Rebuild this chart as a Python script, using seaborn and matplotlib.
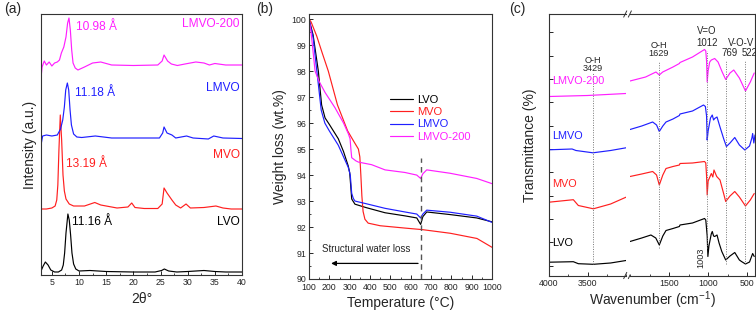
import numpy as np
import pandas as pd
import matplotlib
matplotlib.use('Agg')
import matplotlib.pyplot as plt
import seaborn as sns
from matplotlib.ticker import MultipleLocator

# ---- (a) XRD, intensity in a.u. (curves already offset) ----
lvo_2t = [3.0, 3.4, 3.8, 4.3, 4.8, 5.5, 6.2, 6.8, 7.1, 7.35, 7.6, 7.95, 8.2, 8.45, 8.7, 9.0, 9.4, 10, 12, 15,
          20, 24, 25.2, 25.7, 26.5, 28, 30, 33, 35, 37, 40]
lvo_int = [4, 9, 13, 10, 5, 3, 3, 5, 10, 22, 42, 61, 55, 40, 22, 11, 6, 4, 4.5, 3.5,
           3, 3, 4.5, 6, 4, 3, 3.5, 4.5, 3.5, 3, 3]
mvo_2t = [3.0, 4.0, 5.0, 5.6, 5.9, 6.1, 6.3, 6.55, 6.8, 7.05, 7.3, 7.6, 8.2, 9.0, 11.0, 12.9, 14.0, 17.0, 19.0,
          19.7, 20.3, 22.0, 24.5, 25.3, 25.65, 26.2, 27.1, 27.8, 28.7, 29.7, 30.5, 33.0, 35.2, 36.5, 38.0, 40.0]
mvo_int = [66, 66, 67, 69, 75, 90, 125, 160, 135, 100, 84, 76, 71, 69, 69, 72.5, 70, 67, 68,
           72, 67.5, 66.5, 66.5, 71, 87, 82, 75, 70, 67, 71, 67, 67.5, 69, 67, 66, 66]
lmvo_2t = [3.0, 3.3, 4.0, 5.0, 6.0, 6.6, 7.0, 7.3, 7.55, 7.85, 8.1, 8.35, 8.6, 9.0, 9.6, 10.5, 13, 16, 20,
           24.8, 25.4, 25.65, 26.2, 27.1, 27.8, 29.8, 31, 33.8, 34.8, 36.5, 40]
lmvo_int = [130, 139, 140, 139, 140, 146, 155, 168, 185, 192, 185, 165, 150, 141, 138, 137.5, 139, 137, 137,
            137, 142, 148, 142, 140, 137, 139, 137, 136, 139, 137, 136.5]
l200_2t = [3.0, 3.2, 3.6, 4.0, 4.5, 5.0, 5.5, 6.0, 6.4, 6.75, 7.2, 7.6, 7.9, 8.15, 8.4, 8.65, 8.9, 9.3, 9.8,
           11, 12.5, 14, 16, 20, 24.5, 25.3, 25.65, 26.3, 27, 28.1, 29.5, 31.5, 33.0, 34.0, 35, 37, 40]
l200_int = [197, 208, 214, 210, 213, 209, 212, 213, 215, 222, 228, 238, 252, 257, 245, 225, 212, 207, 205,
            208, 212, 213, 210, 209.5, 210, 214, 220, 214, 211, 209.5, 211, 213, 212, 210, 211.5, 210, 210]

# ---- (b) TGA ----
lvo_T = [100, 120, 146, 162, 179, 200, 244, 270, 293, 300, 305, 310, 326, 380, 474, 572, 630, 649, 660, 679,
         794, 925, 1000]
lvo_w = [100, 99.4, 98.0, 96.7, 96.2, 95.95, 95.4, 94.9, 94.35, 94.1, 93.6, 93.08, 92.88, 92.75, 92.55, 92.43,
         92.35, 92.1, 92.4, 92.58, 92.48, 92.35, 92.2]
mvo_T = [100, 110, 138, 165, 195, 240, 290, 320, 343, 350, 355, 360, 366, 375, 391, 450, 572, 658, 795, 926, 1000]
mvo_w = [100, 99.9, 99.35, 98.7, 98.0, 96.7, 95.7, 95.3, 95.0, 94.7, 94.0, 93.2, 92.6, 92.3, 92.15, 92.05,
         91.96, 91.9, 91.76, 91.56, 91.22]
lmvo_T = [100, 120, 143, 160, 178, 200, 244, 293, 303, 310, 318, 326, 380, 474, 572, 630, 649, 660, 679,
          794, 925, 1000]
lmvo_w = [100, 99.3, 97.7, 96.5, 96.0, 95.7, 95.15, 94.3, 94.0, 93.3, 93.1, 93.0, 92.9, 92.72, 92.58, 92.5,
          92.35, 92.5, 92.65, 92.57, 92.42, 92.18]
l200_T = [100, 110, 130, 150, 179, 228, 270, 293, 302, 306, 310, 330, 343, 408, 474, 572, 630, 649, 660, 679,
          794, 925, 1000]
l200_w = [100, 99.5, 98.0, 97.6, 97.18, 96.59, 96.0, 95.6, 95.4, 95.0, 94.67, 94.55, 94.5, 94.4, 94.2, 94.1,
          94.0, 93.87, 94.05, 94.2, 94.07, 93.87, 93.67]

# ---- (c) FTIR, transmittance in a.u. (offset) ----
ir_left_wn = {
    'LMVO-200': [4000, 3500, 3000],
    'LMVO': [4000, 3700, 3650, 3430, 3200, 3000],
    'MVO': [4000, 3684, 3619, 3424, 3200, 3000],
    'LVO': [4000, 3684, 3619, 3424, 3200, 3000],
}
ir_left_t = {
    'LMVO-200': [179.5, 180.5, 182.5],
    'LMVO': [126.2, 127, 125.5, 123.2, 125.5, 128.2],
    'MVO': [73.8, 76.3, 70.5, 67.2, 72, 78.8],
    'LVO': [13.8, 14.3, 12.3, 11.7, 13, 15.5],
}
ir_right_wn = {
    'LMVO-200': [2000, 1800, 1668, 1625, 1581, 1450, 1368, 1360, 1200, 1046, 1030, 1020, 1012, 1000, 980, 959,
                 916, 873, 820, 775, 720, 672, 600, 522, 460, 410],
    'LMVO': [2000, 1850, 1710, 1660, 1625, 1580, 1539, 1450, 1368, 1360, 1200, 1059, 1035, 1020, 1012, 1000,
             970, 947, 930, 916, 886, 848, 800, 766, 720, 659, 600, 530, 470, 440, 430, 415, 400],
    'MVO': [2000, 1850, 1710, 1660, 1625, 1580, 1539, 1450, 1368, 1360, 1200, 1046, 1030, 1020, 1012, 1000,
            959, 940, 925, 890, 848, 800, 775, 720, 659, 600, 522, 460, 410],
    'LVO': [2000, 1850, 1732, 1670, 1625, 1580, 1539, 1450, 1368, 1360, 1200, 1046, 1030, 1012, 1003, 990,
            960, 947, 930, 916, 886, 860, 825, 775, 720, 659, 600, 573, 522, 470, 430, 410],
}
ir_right_t = {
    'LMVO-200': [195, 199, 204, 201, 204, 209, 212.5, 213.5, 219, 226.5, 225, 215, 194, 205, 214, 216,
                 217.5, 214, 204, 196.5, 203, 206, 198, 185, 194, 203],
    'LMVO': [146.5, 150, 154, 151, 144.5, 150, 154, 157, 160.5, 162, 165, 171, 169.5, 160, 136, 145,
             158, 161, 156, 157.5, 159, 149, 137, 129.5, 133, 138.5, 131, 126, 130, 138, 142.5, 133, 141],
    'MVO': [99.5, 102, 104.5, 101, 91, 101, 107.5, 109.5, 111, 112.5, 113, 114.5, 113, 100, 81, 95,
            102.5, 99, 106, 99.5, 96, 82, 74.5, 80, 84.5, 79, 70, 76, 82.5],
    'LVO': [34.5, 38, 41, 38, 31, 40, 45.5, 47.5, 49.5, 51, 53, 57.5, 56, 40, 19.5, 30,
            42, 44.5, 40, 39.5, 41, 33, 24.5, 16, 20, 23.5, 16, 14.5, 12, 14, 22.5, 19.5],
}
ir_label_y = {'LMVO-200': 194.7, 'LMVO': 139.6, 'MVO': 92, 'LVO': 33.5}

names = ['LVO', 'MVO', 'LMVO', 'LMVO-200']
colors = {'LVO': 'black', 'MVO': '#ff1f1f', 'LMVO': '#1f1fff', 'LMVO-200': '#ff1fff'}

sns.set_style('ticks')
plt.rcParams['font.family'] = ['Liberation Sans', 'DejaVu Sans']
plt.rcParams['mathtext.default'] = 'regular'
plt.rcParams['xtick.direction'] = 'in'
plt.rcParams['ytick.direction'] = 'in'
plt.rcParams['axes.edgecolor'] = '#333333'
plt.rcParams['axes.linewidth'] = 0.8

W, H = 756, 313
fig = plt.figure(figsize=(W / 100, H / 100), dpi=100)


def box(l, t, r, b):
    return [l / W, 1 - b / H, (r - l) / W, (b - t) / H]


ax_a = fig.add_axes(box(41, 14, 242, 275))
ax_b = fig.add_axes(box(309, 14, 492, 279))
ax_c1 = fig.add_axes(box(549, 14, 626, 275.5))
ax_c2 = fig.add_axes(box(630, 14, 755, 275.5))

lw = 0.85
tick_fs = 6.3

# ---------- (a) ----------
xrd = [('LVO', lvo_2t, lvo_int), ('MVO', mvo_2t, mvo_int), ('LMVO', lmvo_2t, lmvo_int),
       ('LMVO-200', l200_2t, l200_int)]
for name, x, y in xrd:
    sns.lineplot(x=x, y=y, ax=ax_a, color=colors[name], lw=lw, estimator=None)
ax_a.set_xlim(3, 40)
ax_a.set_ylim(0, 261)
ax_a.set_xticks(range(5, 41, 5))
ax_a.xaxis.set_minor_locator(MultipleLocator(2.5))
ax_a.set_yticks([])
ax_a.tick_params(axis='x', which='major', length=3, width=0.7, labelsize=tick_fs, pad=2.5)
ax_a.tick_params(axis='x', which='minor', length=1.5, width=0.6)
ax_a.set_xlabel('2θ°', fontsize=10, labelpad=3)
ax_a.set_ylabel('Intensity (a.u.)', fontsize=10, labelpad=3)
fs_a = 8.6
for name, yy in [('LMVO-200', 251), ('LMVO', 187), ('MVO', 120), ('LVO', 53)]:
    ax_a.text(39.6, yy, name, color=colors[name], fontsize=fs_a, ha='right', va='center')
for lab, xx, yy, c in [('10.98 Å', 9.5, 248, 'LMVO-200'), ('11.18 Å', 9.2, 182, 'LMVO'),
                       ('13.19 Å', 7.66, 111, 'MVO'), ('11.16 Å', 8.77, 53, 'LVO')]:
    ax_a.text(xx, yy, lab, color=colors[c], fontsize=fs_a, ha='left', va='center')

# ---------- (b) ----------
tga = [('LVO', lvo_T, lvo_w), ('MVO', mvo_T, mvo_w), ('LMVO', lmvo_T, lmvo_w), ('LMVO-200', l200_T, l200_w)]
for name, x, y in tga:
    sns.lineplot(x=x, y=y, ax=ax_b, color=colors[name], lw=lw, estimator=None, label=name)
ax_b.set_xlim(100, 1000)
ax_b.set_ylim(90, 100.2)
ax_b.set_xticks(range(100, 1001, 100))
ax_b.set_yticks(range(90, 101))
ax_b.xaxis.set_minor_locator(MultipleLocator(50))
ax_b.yaxis.set_minor_locator(MultipleLocator(0.5))
ax_b.tick_params(which='major', length=3, width=0.7, labelsize=tick_fs)
ax_b.tick_params(axis='x', pad=3.2)
ax_b.tick_params(axis='y', pad=2)
ax_b.tick_params(which='minor', length=1.5, width=0.6)
ax_b.set_xlabel('Temperature (°C)', fontsize=10, labelpad=2.5)
ax_b.set_ylabel('Weight loss (wt.%)', fontsize=10, labelpad=3)
ax_b.plot([650, 650], [90, 94.65], color='#555555', lw=1.0, ls=(0, (4, 3)))
ax_b.annotate('', xy=(195, 90.6), xytext=(650, 90.6),
              arrowprops=dict(arrowstyle='-|>', color='black', lw=0.9, mutation_scale=7))
ax_b.text(162, 91.14, 'Structural water loss', fontsize=7, ha='left', va='center')
leg = ax_b.legend(loc='upper left', bbox_to_anchor=(0.443, 0.696), frameon=False, fontsize=8,
                  handlelength=2.1, handletextpad=0.3, labelspacing=0.22, borderpad=0, borderaxespad=0)
for t, name in zip(leg.get_texts(), names):
    t.set_color(colors[name])

# ---------- (c) ----------
for name in names:
    sns.lineplot(x=ir_left_wn[name], y=ir_left_t[name], ax=ax_c1, color=colors[name], lw=lw, estimator=None)
    sns.lineplot(x=ir_right_wn[name], y=ir_right_t[name], ax=ax_c2, color=colors[name], lw=lw, estimator=None)
    ax_c1.text(3965, ir_label_y[name], name, color=colors[name], fontsize=7.8, ha='left', va='center')

for ax in (ax_c1, ax_c2):
    ax.set_ylim(0.5, 262)
    ax.set_xlabel('')
    ax.tick_params(which='major', length=3, width=0.7, labelsize=tick_fs, pad=2.5)
    ax.tick_params(which='minor', length=1.5, width=0.6)
ax_c1.set_xlim(4000, 3000)
ax_c1.set_xticks([4000, 3500])
ax_c1.xaxis.set_minor_locator(MultipleLocator(250))
ax_c1.spines['right'].set_visible(False)
ax_c1.set_yticks(np.arange(10.5, 262, 23.33))
ax_c1.set_yticklabels([])
ax_c1.set_ylabel('Transmittance (%)', fontsize=10, labelpad=6)
ax_c2.set_xlim(2000, 400)
ax_c2.set_xticks([1500, 1000, 500])
ax_c2.xaxis.set_minor_locator(MultipleLocator(250))
ax_c2.spines['left'].set_visible(False)
ax_c2.set_yticks([])

dot = dict(color='#777777', lw=0.7, ls=(0, (1, 1.5)))
ax_c1.plot([3429, 3429], [12.5, 203.5], **dot)
for wn, top, bot in [(1629, 215.5, 28), (1012, 225, 28), (769, 215, 12), (522, 215, 12)]:
    ax_c2.plot([wn, wn], [bot, top], **dot)

fs_p = 6.6
ax_c1.text(3429, 211.5, 'O-H\n3429', fontsize=fs_p, ha='center', va='center', linespacing=0.95)
ax_c2.text(1629, 226.5, 'O-H\n1629', fontsize=fs_p, ha='center', va='center', linespacing=0.95)
ax_c2.text(1012, 239, 'V=O\n1012', fontsize=fs_p + 0.3, ha='center', va='center', linespacing=1.2)
ax_c2.text(574, 232.5, 'V-O-V', fontsize=fs_p + 0.3, ha='center', va='center')
ax_c2.text(724, 222.5, '769', fontsize=fs_p + 0.3, ha='center', va='center')
ax_c2.text(471, 222.5, '522', fontsize=fs_p + 0.3, ha='center', va='center')
ax_c2.text(1095, 18.5, '1003', fontsize=fs_p, ha='center', va='center', rotation=90)

# axis break marks
for yb in (0, 1):
    for x0 in (0.97, 1.03):
        ax_c1.plot([x0, x0 + 0.04], [yb - 0.012, yb + 0.012], transform=ax_c1.transAxes,
                   color='#333333', lw=0.7, clip_on=False)

fig.text(652 / W, 1 - 300 / H, 'Wavenumber (cm$^{-1}$)', fontsize=10, ha='center', va='center')

for lab, px in [('(a)', 4), ('(b)', 256), ('(c)', 509)]:
    fig.text(px / W, 1 - 9 / H, lab, fontsize=10, ha='left', va='center')

fig.savefig('out.png', dpi=100)
